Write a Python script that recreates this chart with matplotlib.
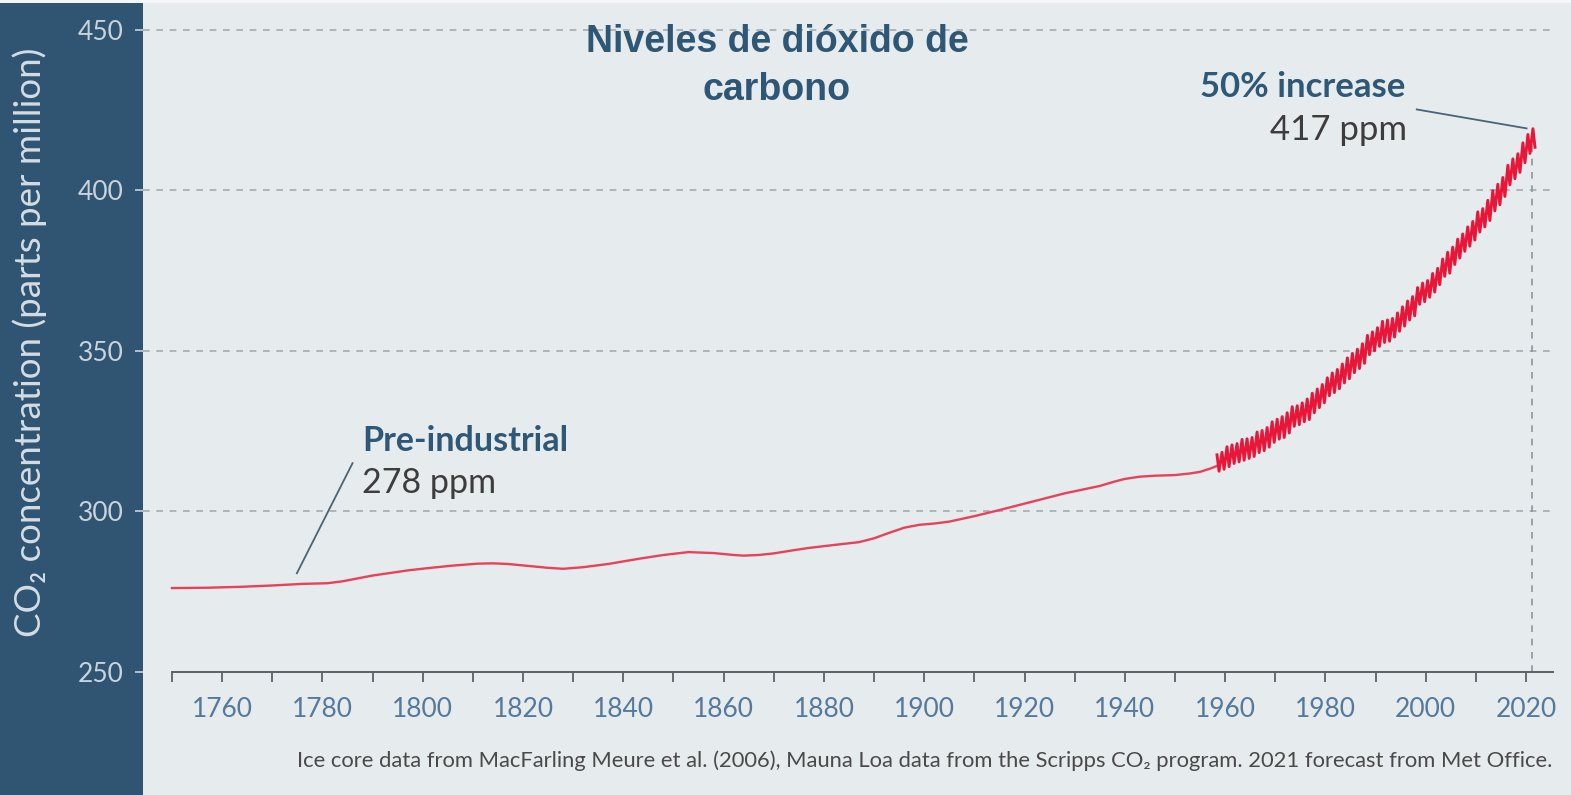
import matplotlib
matplotlib.use('Agg')
import matplotlib.pyplot as plt
from matplotlib.ticker import FixedLocator
from matplotlib.patches import Rectangle

# ice core record
ice_years = [1750, 1757, 1764, 1770, 1776, 1781, 1784, 1787, 1790, 1794, 1797, 1801,
             1806, 1811, 1814, 1817, 1821, 1825, 1828, 1832, 1837, 1843, 1848, 1853,
             1858, 1862, 1864, 1867, 1870, 1874, 1877, 1883, 1887, 1890, 1893, 1896,
             1899, 1902, 1905, 1910, 1915, 1922, 1928, 1935, 1938, 1940, 1943, 1946,
             1950, 1953, 1955, 1957, 1958.3]
ice_ppm = [276.0, 276.1, 276.4, 276.8, 277.3, 277.5, 278.1, 279.0, 279.9, 280.8, 281.5, 282.2,
           283.0, 283.6, 283.7, 283.5, 282.9, 282.3, 282.0, 282.5, 283.5, 285.1, 286.3, 287.2,
           286.9, 286.3, 286.1, 286.3, 286.8, 287.8, 288.5, 289.6, 290.3, 291.5, 293.2, 294.8,
           295.7, 296.1, 296.7, 298.4, 300.3, 303.1, 305.5, 307.8, 309.2, 310.0, 310.7, 311.0,
           311.2, 311.7, 312.2, 313.2, 314.0]

# Mauna Loa: yearly seasonal high (May) and low (Oct)
ml_years = list(range(1958, 2022))
ml_peak = [317.5, 318.3, 320.0, 320.6, 321.0, 322.3, 322.5, 322.9, 324.6, 325.1,
           326.0, 327.8, 328.6, 329.4, 330.6, 332.5, 332.8, 333.7, 334.9, 336.7,
           338.0, 339.4, 341.5, 343.0, 344.1, 345.8, 347.7, 349.1, 350.4, 352.1,
           354.7, 355.8, 357.1, 359.1, 359.5, 360.0, 361.7, 363.6, 365.4, 366.8,
           369.6, 371.0, 371.8, 374.0, 375.6, 378.5, 380.6, 382.2, 384.7, 386.3,
           388.5, 390.2, 393.2, 394.2, 396.8, 399.8, 401.8, 403.9, 407.7, 409.7,
           411.3, 414.7, 417.3, 419.1]
ml_trough = [312.4, 313.0, 313.8, 314.8, 315.3, 315.8, 316.4, 317.0, 318.2, 318.8,
             319.9, 321.4, 322.4, 322.9, 324.3, 326.4, 326.9, 327.8, 328.5, 330.6,
             332.2, 333.7, 335.9, 336.9, 338.1, 339.9, 341.2, 343.1, 344.4, 346.0,
             348.7, 349.9, 351.3, 352.5, 352.9, 354.2, 356.0, 357.6, 359.5, 360.8,
             364.4, 365.2, 366.6, 368.2, 370.5, 373.1, 374.1, 376.8, 378.8, 380.9,
             382.5, 384.4, 386.9, 388.5, 390.5, 393.5, 395.4, 398.0, 401.6, 403.5,
             405.5, 408.5, 411.4, 413.3]

y_ticks = [250, 300, 350, 400, 450]
grid_levels = [300, 350, 400, 450]
x_major = [1760, 1780, 1800, 1820, 1840, 1860, 1880, 1900, 1920, 1940, 1960, 1980, 2000, 2020]
x_minor = [1750, 1770, 1790, 1810, 1830, 1850, 1870, 1890, 1910, 1930, 1950, 1970, 1990, 2010]

dark = '#2f5572'
light_bg = '#e6ebee'
red_ice = '#e8415c'
red_ml = '#e8173a'
sans = ['Lato', 'DejaVu Sans']

fig = plt.figure(figsize=(15.71, 7.95), dpi=100, facecolor=dark)
ax = fig.add_axes([143 / 1571, 0, 1428 / 1571, 792 / 795])
ax.set_facecolor(light_bg)
fig.patches.append(Rectangle((0, 792 / 795), 1, 3 / 795, transform=fig.transFigure,
                             facecolor='#f4f6f7', edgecolor='none'))

ax.set_xlim(1744.22, 2028.96)
ax.set_ylim(211.53, 458.26)

# grid
ax.hlines(grid_levels, 1744.22, 2025.6, colors='#a4abb0', lw=1.2,
          linestyles=(0, (4, 4)), zorder=1)
ax.vlines(2021.2, 250, 419, colors='#8e969c', lw=1.2, linestyles=(0, (4, 4)), zorder=1)

# data
ax.plot(ice_years, ice_ppm, color=red_ice, lw=1.7, zorder=3)
ml_x, ml_y = [], []
for yr, p, t in zip(ml_years, ml_peak, ml_trough):
    ml_x += [yr + 0.37, yr + 0.78]
    ml_y += [p, t]
ax.plot(ml_x, ml_y, color=red_ml, lw=2.1, zorder=4)

# axes styling
for s in ['top', 'right', 'left']:
    ax.spines[s].set_visible(False)
ax.spines['bottom'].set_position(('data', 250))
ax.spines['bottom'].set_bounds(1750, 2025.4)
ax.spines['bottom'].set_color('#5b6166')
ax.spines['bottom'].set_linewidth(1.4)
ax.xaxis.set_major_locator(FixedLocator(x_major))
ax.xaxis.set_minor_locator(FixedLocator(x_minor))
ax.tick_params(axis='x', which='both', direction='out', length=7.5, width=1.3,
               color='#5b6166', pad=11, labelsize=19, labelcolor='#55799a')
ax.set_yticks(y_ticks)
ax.tick_params(axis='y', direction='out', length=6, width=1.2, color='#c9d3dc',
               pad=8, labelsize=19, labelcolor='#c9d3dc')
for lab in ax.get_xticklabels() + ax.get_yticklabels():
    lab.set_family(sans)

# annotations
ax.plot([1774.9, 1786.0], [280.6, 314.9], color='#4a6378', lw=1.3, zorder=5)
ax.text(1787.9, 318.7, 'Pre-industrial', family=sans, fontweight='bold', fontsize=24.5,
        color='#2f5876', ha='left', va='baseline')
ax.text(1787.9, 305.6, '278 ppm', family=sans, fontsize=24.5, color='#3d3d3d',
        ha='left', va='baseline')
ax.plot([1998.2, 2020.1], [425.1, 419.2], color='#4a6378', lw=1.3, zorder=5)
ax.text(1995.9, 428.9, '50% increase', family=sans, fontweight='bold', fontsize=25,
        color='#2f5876', ha='right', va='baseline')
ax.text(1996.3, 415.6, '417 ppm', family=sans, fontsize=25, color='#3d3d3d',
        ha='right', va='baseline')

# title
fig.text(777 / 1571, 1 - 51.7 / 795, 'Niveles de dióxido de', family='Liberation Sans',
         fontweight='bold', fontsize=27, color='#2e5675', ha='center', va='baseline')
fig.text(777 / 1571, 1 - 100 / 795, 'carbono', family='Liberation Sans',
         fontweight='bold', fontsize=27, color='#2e5675', ha='center', va='baseline')

# y label and source
fig.text(30 / 1571, 1 - 342 / 795, 'CO₂ concentration (parts per million)', family=sans,
         fontsize=26.5, color='#d3dde5', rotation=90, ha='center', va='center')
fig.text(1552 / 1571, 1 - 767 / 795,
         'Ice core data from MacFarling Meure et al. (2006), Mauna Loa data from the '
         'Scripps CO₂ program. 2021 forecast from Met Office.',
         family=sans, fontsize=15.8, color='#4a4a4a', ha='right', va='baseline')

fig.savefig('out.png', dpi=100, facecolor=fig.get_facecolor())
